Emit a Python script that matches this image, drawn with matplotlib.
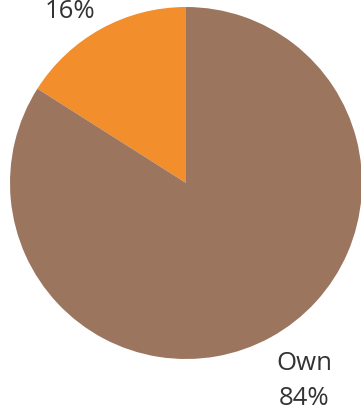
import matplotlib
matplotlib.use("Agg")
import matplotlib.pyplot as plt

categories = ["Rent", "Own"]
shares = [16, 84]
colors = ["#F28E2B", "#9C755F"]
# label text per slice; only the percentage of the small slice fits in frame
label_texts = ["16%", "Own\n84%"]

W, H, DPI = 361, 413, 100
cx, cy, r = 186, 183, 176  # pie centre and radius in pixels (from top-left)

fig = plt.figure(figsize=(W / DPI, H / DPI), dpi=DPI)
ax = fig.add_axes([0, 0, 1, 1])

wedges, _ = ax.pie(
    shares,
    colors=colors,
    startangle=90,
    counterclock=True,
    wedgeprops=dict(linewidth=0),
)

ax.set_aspect("auto")
ax.set_xlim(-cx / r, (W - cx) / r)
ax.set_ylim(-(H - cy) / r, cy / r)
ax.axis("off")


def px(x, y):
    """pixel position (from top-left) to data units"""
    return (x - cx) / r, (cy - y) / r


label_pos = [px(70, 12), px(304, 381)]
for txt, (lx, ly) in zip(label_texts, label_pos):
    ax.text(lx, ly, txt, fontsize=18.5, color="#333333", family="Open Sans",
            ha="center", va="center", linespacing=1.55)

fig.savefig("out.png", dpi=DPI)
